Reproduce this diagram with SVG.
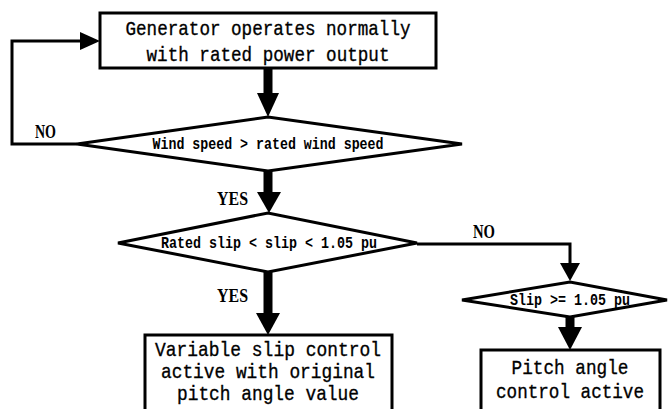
<svg xmlns="http://www.w3.org/2000/svg" width="668" height="409" viewBox="0 0 668 409">
<style>
.box{fill:#fff;stroke:#000;stroke-width:3}
.dia{fill:#fff;stroke:#000;stroke-width:3;stroke-linejoin:miter}
.bt{font-family:"Liberation Mono","DejaVu Sans Mono",monospace;font-size:21px;fill:#000;stroke:#000;stroke-width:0.35;text-anchor:middle}
.dt{font-family:"Liberation Mono","DejaVu Sans Mono",monospace;font-size:16px;font-weight:bold;fill:#000;text-anchor:middle}
.lb{font-family:"Liberation Serif","DejaVu Serif",serif;font-size:19px;font-weight:bold;fill:#000}
.thin{fill:none;stroke:#000;stroke-width:3}
.thick{fill:none;stroke:#000;stroke-width:9}
.head{fill:#000}
</style>
<rect width="668" height="409" fill="#fff"/>
<g id="connectors">
  <line class="thick" x1="268" y1="68" x2="268" y2="95"/>
  <polygon class="head" points="257,93 279,93 268,117"/>
  <line class="thick" x1="268" y1="171" x2="268" y2="194"/>
  <polygon class="head" points="257,192 281,192 269,213"/>
  <line class="thick" x1="268" y1="272" x2="268" y2="315"/>
  <polygon class="head" points="256,313 280,313 268,335"/>
  <line class="thick" x1="570" y1="317" x2="570" y2="329"/>
  <polygon class="head" points="558,327 582,327 570,350"/>
  <polyline class="thin" points="417,244 570,244 570,265"/>
  <polygon class="head" points="560,263 580,263 570,281"/>
  <polyline class="thin" points="77,144 12,144 12,41 82,41"/>
  <polygon class="head" points="80,32 80,50 100,41"/>
  <text class="lb" x="35" y="138" textLength="21" lengthAdjust="spacingAndGlyphs">NO</text>
  <text class="lb" x="217" y="205" textLength="31" lengthAdjust="spacingAndGlyphs">YES</text>
  <text class="lb" x="217" y="302" textLength="31" lengthAdjust="spacingAndGlyphs">YES</text>
  <text class="lb" x="473" y="238" textLength="22" lengthAdjust="spacingAndGlyphs">NO</text>
</g>
<g id="start">
  <rect class="box" x="100" y="13" width="336" height="55"/>
  <text class="bt" x="268" y="35" textLength="285" lengthAdjust="spacingAndGlyphs">Generator operates normally</text>
  <text class="bt" x="268" y="61" textLength="243" lengthAdjust="spacingAndGlyphs">with rated power output</text>
</g>
<g id="decision-wind">
  <polygon class="dia" points="77,144 268,117 462,144 268,171"/>
  <text class="dt" x="268" y="149" textLength="231" lengthAdjust="spacingAndGlyphs">Wind speed &gt; rated wind speed</text>
</g>
<g id="decision-slip">
  <polygon class="dia" points="118,243 268,213 417,243 268,272"/>
  <text class="dt" x="269" y="248" textLength="216" lengthAdjust="spacingAndGlyphs">Rated slip &lt; slip &lt; 1.05 pu</text>
</g>
<g id="decision-slip-high">
  <polygon class="dia" points="462,300 570,282 667,300 570,317"/>
  <text class="dt" x="570" y="305" textLength="120" lengthAdjust="spacingAndGlyphs">Slip &gt;= 1.05 pu</text>
</g>
<g id="variable-slip">
  <rect class="box" x="145" y="335" width="247" height="90"/>
  <text class="bt" x="268" y="356" textLength="226" lengthAdjust="spacingAndGlyphs">Variable slip control</text>
  <text class="bt" x="268" y="378" textLength="214" lengthAdjust="spacingAndGlyphs">active with original</text>
  <text class="bt" x="268" y="400" textLength="182" lengthAdjust="spacingAndGlyphs">pitch angle value</text>
</g>
<g id="pitch-control">
  <rect class="box" x="481" y="350" width="179" height="80"/>
  <text class="bt" x="570" y="374" textLength="117" lengthAdjust="spacingAndGlyphs">Pitch angle</text>
  <text class="bt" x="570" y="398" textLength="148" lengthAdjust="spacingAndGlyphs">control active</text>
</g>
</svg>
